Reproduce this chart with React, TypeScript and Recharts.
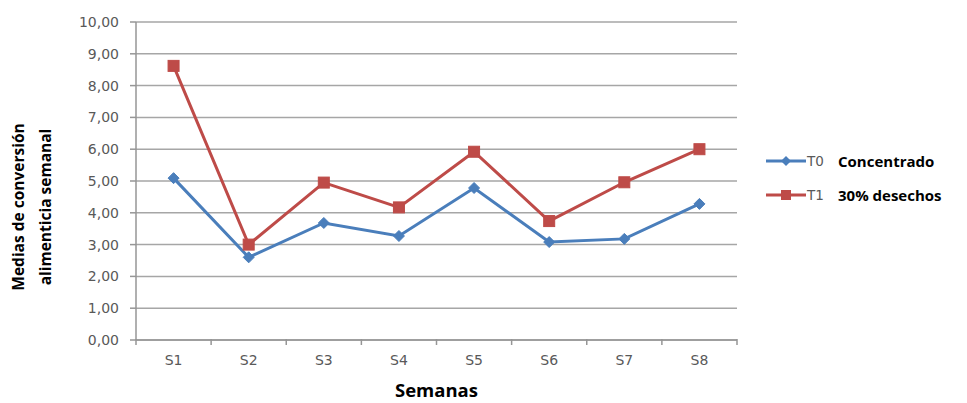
import React from 'react';
import {
  LineChart,
  Line,
  CartesianGrid,
  XAxis,
  YAxis,
} from 'recharts';

const weekLabels = ['S1', 'S2', 'S3', 'S4', 'S5', 'S6', 'S7', 'S8'];
const t0Values = [5.09, 2.6, 3.68, 3.27, 4.78, 3.08, 3.18, 4.28];
const t1Values = [8.62, 3.0, 4.95, 4.17, 5.92, 3.74, 4.96, 6.0];
const yTicks = [0, 1, 2, 3, 4, 5, 6, 7, 8, 9, 10];
const seriesInfo = [
  { key: 't0', code: 'T0', name: 'Concentrado', color: '#4A7EBB', shape: 'diamond' },
  { key: 't1', code: 'T1', name: '30% desechos', color: '#BE4B48', shape: 'square' },
];

const data = weekLabels.map((label, i) => ({
  x: i + 1,
  label,
  t0: t0Values[i],
  t1: t1Values[i],
}));

// ticks at every half step: halves get a tick mark, integers get the label
const xTicks = [0.5, ...weekLabels.flatMap((_, i) => [i + 1, i + 1.5])];

const fmt = (v: number) => v.toFixed(2).replace('.', ',');

const XTick = (props: any) => {
  const { x, y, payload } = props;
  const v = payload.value as number;
  if (Number.isInteger(v)) {
    return (
      <text x={x} y={y + 25} textAnchor="middle" fill="#595959" fontSize={14} fontFamily="DejaVu Sans">
        {weekLabels[v - 1]}
      </text>
    );
  }
  return <line x1={x} x2={x} y1={y - 1} y2={y + 5} stroke="#969696" strokeWidth={1.5} />;
};

const Diamond = (props: any) => {
  const { cx, cy } = props;
  if (cx == null || cy == null) return null;
  const r = 5.5;
  return (
    <path
      d={`M${cx},${cy - r}L${cx + r},${cy}L${cx},${cy + r}L${cx - r},${cy}Z`}
      fill="#4A7EBB"
      stroke="#4A7EBB"
    />
  );
};

const Square = (props: any) => {
  const { cx, cy } = props;
  if (cx == null || cy == null) return null;
  const s = 11;
  return <rect x={cx - s / 2} y={cy - s / 2} width={s} height={s} fill="#BE4B48" stroke="#BE4B48" />;
};

const YLabel = () => (
  <g fontFamily="Open Sans" fontWeight="bold" fontSize={15.5} fill="#000">
    <text x={24} y={207} textAnchor="middle" transform="rotate(-90 24 207)">
      Medias de conversión
    </text>
    <text x={51} y={207} textAnchor="middle" transform="rotate(-90 51 207)">
      alimenticia semanal
    </text>
  </g>
);

const LegendBox = () => (
  <div style={{ position: 'absolute', left: 765, top: 144, width: 200, fontFamily: 'Open Sans' }}>
    {seriesInfo.map((s) => (
      <div key={s.key} style={{ display: 'flex', alignItems: 'center', height: 34 }}>
        <svg width={42} height={14}>
          <line x1={1} x2={41} y1={7} y2={7} stroke={s.color} strokeWidth={3} />
          {s.shape === 'diamond' ? (
            <path d="M21,2L26,7L21,12L16,7Z" fill={s.color} />
          ) : (
            <rect x={16} y={2} width={10} height={10} fill={s.color} />
          )}
        </svg>
        <span style={{ fontFamily: 'DejaVu Sans', fontSize: 13.5, color: '#595959', width: 31 }}>{s.code}</span>
        <span style={{ fontWeight: 'bold', fontSize: 15, color: '#000' }}>{s.name}</span>
      </div>
    ))}
  </div>
);

export default function App() {
  return (
    <div style={{ position: 'absolute', left: 0, top: 0, width: 967, height: 403, background: '#fff' }}>
      <LineChart
        width={967}
        height={403}
        data={data}
        margin={{ top: 22, right: 230, bottom: 0, left: 76 }}
      >
        <CartesianGrid vertical={false} stroke="#A6A6A6" strokeWidth={1.5} />
        <XAxis
          dataKey="x"
          type="number"
          domain={[0.5, 8.5]}
          ticks={xTicks}
          interval={0}
          tickLine={false}
          tickSize={0}
          tickMargin={0}
          tick={<XTick />}
          axisLine={{ stroke: '#969696', strokeWidth: 1.5 }}
          height={63}
          label={{
            value: 'Semanas',
            position: 'insideBottom',
            offset: 6,
            fill: '#000',
            fontSize: 18.5,
            fontWeight: 'bold',
            fontFamily: 'Open Sans',
          }}
        />
        <YAxis
          type="number"
          domain={[0, 10]}
          ticks={yTicks}
          interval={0}
          width={60}
          tickFormatter={fmt}
          tickSize={6}
          tickMargin={11}
          tickLine={{ stroke: '#969696', strokeWidth: 1.5 }}
          axisLine={{ stroke: '#969696', strokeWidth: 1.5 }}
          tick={{ fill: '#595959', fontSize: 14, fontFamily: 'DejaVu Sans' }}
          label={<YLabel />}
        />
        <Line
          dataKey="t0"
          stroke="#4A7EBB"
          strokeWidth={3}
          dot={<Diamond />}
          activeDot={false}
          isAnimationActive={false}
        />
        <Line
          dataKey="t1"
          stroke="#BE4B48"
          strokeWidth={3}
          dot={<Square />}
          activeDot={false}
          isAnimationActive={false}
        />
      </LineChart>
      <LegendBox />
    </div>
  );
}
